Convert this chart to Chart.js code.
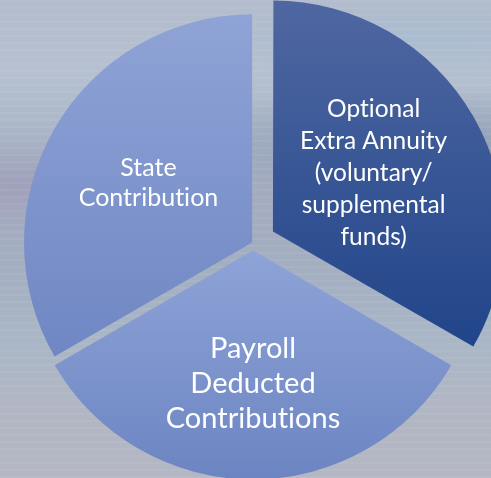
<!DOCTYPE html>
<html>
<head>
<meta charset="utf-8">
<script src="https://cdn.jsdelivr.net/npm/chart.js@4"></script>
<style>
  html, body { margin: 0; padding: 0; }
  body {
    width: 491px;
    height: 478px;
    overflow: hidden;
    background:
      repeating-linear-gradient(to bottom, rgba(255,255,255,0.05) 0 2px, rgba(255,255,255,0) 2px 7px),
      radial-gradient(ellipse 55% 12% at 85% 30%, rgba(110,130,160,0.45), rgba(110,130,160,0) 100%),
      radial-gradient(ellipse 50% 10% at 85% 8%, rgba(150,185,210,0.35), rgba(150,185,210,0) 100%),
      radial-gradient(ellipse 40% 10% at 5% 38%, rgba(150,140,175,0.35), rgba(150,140,175,0) 100%),
      linear-gradient(to bottom, #b3bccc 0%, #b6c0d0 15%, #aab6c8 28%, #a4abc0 40%, #a3aec0 55%, #a9b6c6 70%, #b1b6c4 85%, #b4b6c3 100%);
  }
  canvas { display: block; }
</style>
</head>
<body>
<canvas id="pie-chart" width="491" height="478"></canvas>
<script>
// slices, clockwise from 12 o'clock
const categories = ["Optional Extra Annuity", "Payroll Deducted Contributions", "State Contribution"];
const labelLines = [
  ["Optional", "Extra Annuity", "(voluntary/", "supplemental", "funds)"],
  ["Payroll", "Deducted", "Contributions"],
  ["State", "Contribution"],
];
const shares = [1, 1, 1];

const fills = [
  ["#4f67a1", "#21458a"],
  ["#8ea3d7", "#6c85c2"],
  ["#8fa3d6", "#6f87c3"],
];
const RADIUS = 228;

const sliceLabels = {
  id: "sliceLabels",
  afterDatasetsDraw(chart, args, opts) {
    const ctx = chart.ctx;
    const meta = chart.getDatasetMeta(0);
    meta.data.forEach((arc, i) => {
      const p = arc.getProps(["x", "y", "startAngle", "endAngle", "outerRadius"]);
      const mid = (p.startAngle + p.endAngle) / 2;
      const shift = (arc.options.offset || 0) / 4;
      const dist = shift + p.outerRadius * opts.depth[i];
      const x = p.x + Math.cos(mid) * dist;
      const y = p.y + Math.sin(mid) * dist;
      const lines = labelLines[i];
      ctx.save();
      ctx.fillStyle = "#ffffff";
      ctx.font = opts.size[i] + "px Lato";
      ctx.letterSpacing = "0.01px"; // keeps "ti" from turning into a ligature
      ctx.textAlign = "center";
      ctx.textBaseline = "middle";
      lines.forEach((line, k) => {
        ctx.fillText(line, x, y + (k - (lines.length - 1) / 2) * opts.lineHeight[i]);
      });
      ctx.restore();
    });
  }
};

function draw() {
  new Chart(document.getElementById("pie-chart"), {
    type: "pie",
    data: {
      labels: categories,
      datasets: [
        {
          data: shares,
          offset: [92, 30, 4],
          hoverOffset: 0,
          borderWidth: 0,
          backgroundColor: (context) => {
            const chart = context.chart;
            const area = chart.chartArea;
            const i = context.dataIndex;
            if (!area) return fills[i][0];
            const cy = (area.top + area.bottom) / 2;
            const spans = [
              [cy - RADIUS, cy + RADIUS / 2],
              [cy, cy + RADIUS],
              [cy - RADIUS, cy + RADIUS / 2],
            ];
            const g = chart.ctx.createLinearGradient(0, spans[i][0], 0, spans[i][1]);
            g.addColorStop(0, fills[i][0]);
            g.addColorStop(1, fills[i][1]);
            return g;
          },
        },
      ],
    },
    options: {
      responsive: false,
      animation: false,
      radius: RADIUS,
      layout: { padding: { left: 15, top: 8, right: 0, bottom: 0 } },
      plugins: {
        legend: { display: false },
        tooltip: { enabled: false },
        sliceLabels: {
          depth: [0.51, 0.585, 0.525],
          size: [24.5, 29, 25],
          lineHeight: [32, 35, 30],
        },
      },
    },
    plugins: [sliceLabels],
  });
}

if (document.fonts && document.fonts.load) {
  document.fonts.load("25px Lato").then(draw, draw);
} else {
  draw();
}
</script>
</body>
</html>
